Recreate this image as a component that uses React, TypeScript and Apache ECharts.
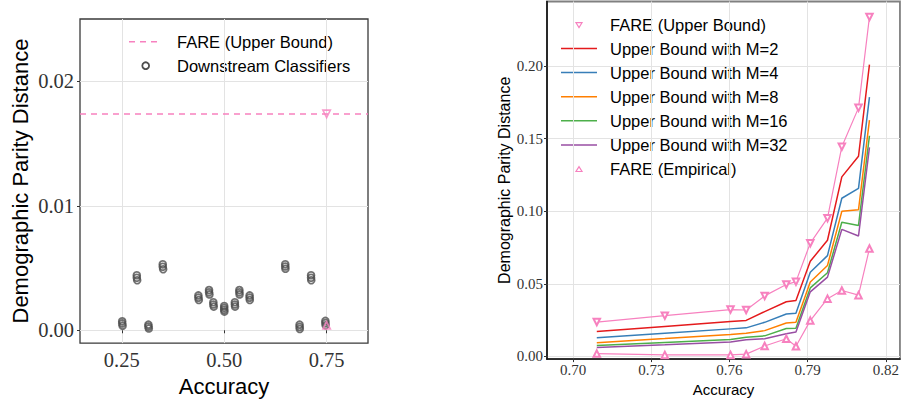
import React, { useEffect, useRef } from "react";
import * as echarts from "echarts";

// ---------- Left panel data ----------
const downstreamAccuracy = [
  0.251, 0.251, 0.252,
  0.2866, 0.2866, 0.2876,
  0.315, 0.315, 0.316,
  0.35, 0.35, 0.351,
  0.437, 0.437, 0.438,
  0.463, 0.463, 0.464,
  0.4735, 0.4735, 0.4745,
  0.5, 0.5, 0.5, 0.5005,
  0.526, 0.526, 0.5265,
  0.537, 0.537, 0.5375,
  0.562, 0.562, 0.5625,
  0.649, 0.649, 0.6495,
  0.684, 0.684, 0.6845,
  0.712, 0.712, 0.7125,
  0.747, 0.747, 0.7475,
];
const downstreamDP = [
  0.00072, 0.00055, 0.00037,
  0.00442, 0.00422, 0.00402,
  0.00045, 0.0003, 0.00015,
  0.0053, 0.0051, 0.0049,
  0.0028, 0.00262, 0.00243,
  0.00323, 0.00305, 0.00288,
  0.00225, 0.00207, 0.0019,
  0.00195, 0.0018, 0.00165, 0.0015,
  0.00225, 0.00207, 0.0019,
  0.00323, 0.00305, 0.00288,
  0.0028, 0.00262, 0.00243,
  0.0053, 0.00512, 0.00494,
  0.00045, 0.00027, 0.0001,
  0.00442, 0.00422, 0.00402,
  0.00075, 0.00058, 0.0004,
];
const leftFareAccuracy = [0.75];
const leftFareUpper = [0.01738];
const leftFareEmpirical = [0.0004];
const leftXTicks = [0.25, 0.5, 0.75];
const leftYTicks = [0, 0.01, 0.02];

// ---------- Right panel data ----------
const accuracy = [0.7091, 0.7352, 0.7604, 0.7664, 0.7735, 0.7818, 0.7855, 0.791, 0.7976, 0.8031, 0.8095, 0.8137];
const fareUpper = [0.0237, 0.0281, 0.0323, 0.032, 0.0417, 0.0495, 0.0515, 0.078, 0.0952, 0.1444, 0.1711, 0.2337];
const boundM2 = [0.0172, 0.0207, 0.0241, 0.0248, 0.0309, 0.0377, 0.0386, 0.0655, 0.08, 0.1236, 0.1378, 0.2009];
const boundM4 = [0.0129, 0.016, 0.019, 0.0197, 0.0235, 0.0292, 0.0298, 0.058, 0.0694, 0.1089, 0.1157, 0.1785];
const boundM8 = [0.0095, 0.0123, 0.0152, 0.016, 0.0178, 0.0231, 0.0235, 0.0513, 0.0626, 0.0999, 0.101, 0.1627];
const boundM16 = [0.0075, 0.0097, 0.0117, 0.0133, 0.0142, 0.0192, 0.0195, 0.0472, 0.0576, 0.0924, 0.0902, 0.1519];
const boundM32 = [0.0061, 0.008, 0.0099, 0.0115, 0.0122, 0.0156, 0.0168, 0.0445, 0.0546, 0.0875, 0.0829, 0.1439];
const fareEmpirical = [0.002, 0.0011, 0.0011, 0.0016, 0.0072, 0.0122, 0.007, 0.0247, 0.0398, 0.0454, 0.0422, 0.0743];
const rightXTicks = [0.7, 0.73, 0.76, 0.79, 0.82];
const rightYTicks = [0, 0.05, 0.1, 0.15, 0.2];

const boundNames = ["Upper Bound with M=2", "Upper Bound with M=4", "Upper Bound with M=8", "Upper Bound with M=16", "Upper Bound with M=32"];
const boundSeries = [boundM2, boundM4, boundM8, boundM16, boundM32];
const SET1 = ["#e41a1c", "#377eb8", "#ff7f00", "#4daf4a", "#984ea3"];
const PINK = "#f781bf";

const zip = (xs: number[], ys: number[]) => xs.map((x, i) => [x, ys[i]]);
const fmt2 = (v: number) => v.toFixed(2);

const SANS = "Liberation Sans, Arial, sans-serif";
const SERIF = "Liberation Serif, Times New Roman, serif";

export default function App() {
  const ref = useRef<HTMLDivElement>(null);
  useEffect(() => {
    document.body.style.margin = "0";
    const chart = echarts.init(ref.current!, undefined, { renderer: "svg" });

    const splitLine = { show: true, lineStyle: { color: "#e3e3e3", width: 1 } };

    const legendText = (x: number, y: number, text: string) => ({
      type: "text",
      x,
      y,
      style: { text, fontFamily: SANS, fontSize: 16.5, fill: "#000", verticalAlign: "middle", align: "left" },
    });
    const rightRows = [25, 48.5, 72.5, 96.7, 120.8, 145, 169.2];
    const graphic: any[] = [
      // left legend
      { type: "line", shape: { x1: 129, y1: 41.7, x2: 157, y2: 41.7 }, style: { stroke: PINK, lineWidth: 1.5, lineDash: [6, 5] } },
      legendText(177, 41.7, "FARE (Upper Bound)"),
      { type: "circle", shape: { cx: 145.7, cy: 65.7, r: 3.4 }, style: { fill: "none", stroke: "#4d4d4d", lineWidth: 1.8 } },
      legendText(177, 65.7, "Downstream Classifiers"),
      // right legend
      { type: "polygon", shape: { points: [[576, rightRows[0] - 2.3], [582, rightRows[0] - 2.3], [579, rightRows[0] + 2.5]] }, style: { fill: "#fff", stroke: PINK, lineWidth: 1.2 } },
      legendText(610, rightRows[0], "FARE (Upper Bound)"),
      ...boundNames.flatMap((n, i) => [
        { type: "line", shape: { x1: 561, y1: rightRows[i + 1], x2: 597, y2: rightRows[i + 1] }, style: { stroke: SET1[i], lineWidth: 1.6 } },
        legendText(610, rightRows[i + 1], n),
      ]),
      { type: "polygon", shape: { points: [[576, rightRows[6] + 2.3], [582, rightRows[6] + 2.3], [579, rightRows[6] - 2.5]] }, style: { fill: "#fff", stroke: PINK, lineWidth: 1.2 } },
      legendText(610, rightRows[6], "FARE (Empirical)"),
    ];

    const option: any = {
      animation: false,
      backgroundColor: "#fff",
      grid: [
        { left: 80, top: 19, width: 288, height: 328, show: true, borderColor: "#3a3a3a", borderWidth: 1.3, backgroundColor: "transparent" },
        { left: 547, top: 1.5, right: 2, bottom: 37, show: true, borderColor: "#808080", borderWidth: 1.8, backgroundColor: "transparent" },
      ],
      xAxis: [
        {
          gridIndex: 0, type: "value", min: 0.148, max: 0.851,
          name: "Accuracy", nameLocation: "middle", nameGap: 27,
          nameTextStyle: { fontFamily: SANS, fontSize: 22, color: "#000" },
          axisLine: { show: false },
          axisTick: { show: true, length: 3, customValues: leftXTicks, lineStyle: { color: "#333" } },
          axisLabel: { customValues: leftXTicks, formatter: fmt2, fontFamily: SERIF, fontSize: 20.5, color: "#333", margin: 6 },
          splitLine,
        },
        {
          gridIndex: 1, type: "value", min: 0.69, max: 0.8254,
          name: "Accuracy", nameLocation: "middle", nameGap: 20,
          nameTextStyle: { fontFamily: SANS, fontSize: 15, color: "#000" },
          axisLine: { show: true, onZero: false, lineStyle: { color: "#111", width: 1.6 } },
          axisTick: { show: true, length: 3, customValues: rightXTicks, lineStyle: { color: "#333" } },
          axisLabel: { customValues: rightXTicks, formatter: fmt2, fontFamily: SERIF, fontSize: 15, color: "#333", margin: 3 },
          splitLine,
        },
      ],
      yAxis: [
        {
          gridIndex: 0, type: "value", min: -0.00103, max: 0.025,
          name: "Demographic Parity Distance", nameLocation: "middle", nameGap: 49,
          nameTextStyle: { fontFamily: SANS, fontSize: 22, color: "#000" },
          axisLine: { show: false },
          axisTick: { show: true, length: 3, customValues: leftYTicks, lineStyle: { color: "#333" } },
          axisLabel: { customValues: leftYTicks, formatter: fmt2, fontFamily: SERIF, fontSize: 20.5, color: "#333", margin: 6 },
          splitLine,
        },
        {
          gridIndex: 1, type: "value", min: -0.0018, max: 0.2443,
          name: "Demographic Parity Distance", nameLocation: "middle", nameGap: 31,
          nameTextStyle: { fontFamily: SANS, fontSize: 16, color: "#000" },
          axisLine: { show: true, onZero: false, lineStyle: { color: "#111", width: 1.6 } },
          axisTick: { show: true, length: 3, customValues: rightYTicks, lineStyle: { color: "#333" } },
          axisLabel: { customValues: rightYTicks, formatter: fmt2, fontFamily: SERIF, fontSize: 15, color: "#333", margin: 4 },
          splitLine,
        },
      ],
      graphic,
      series: [
        {
          name: "Downstream Classifiers", type: "scatter", xAxisIndex: 0, yAxisIndex: 0,
          data: zip(downstreamAccuracy, downstreamDP),
          symbol: "circle", symbolSize: 6.8,
          itemStyle: { color: "transparent", borderColor: "#4d4d4d", borderWidth: 1.8 },
        },
        {
          name: "FARE (Upper Bound) left", type: "scatter", xAxisIndex: 0, yAxisIndex: 0,
          data: zip(leftFareAccuracy, leftFareUpper),
          symbol: "triangle", symbolRotate: 180, symbolSize: 7.5,
          itemStyle: { color: "transparent", borderColor: PINK, borderWidth: 1.6 },
          markLine: {
            silent: true, symbol: ["none", "none"], label: { show: false }, precision: 6,
            lineStyle: { color: PINK, type: [6, 5], width: 1.5 },
            data: [{ yAxis: leftFareUpper[0] }],
          },
        },
        {
          name: "FARE (Empirical) left", type: "scatter", xAxisIndex: 0, yAxisIndex: 0,
          data: zip(leftFareAccuracy, leftFareEmpirical),
          symbol: "triangle", symbolSize: 7.5,
          itemStyle: { color: "transparent", borderColor: PINK, borderWidth: 1.6 },
        },
        {
          name: "FARE (Upper Bound)", type: "line", xAxisIndex: 1, yAxisIndex: 1,
          data: zip(accuracy, fareUpper),
          symbol: "emptyTriangle", symbolRotate: 180, symbolSize: 6.5,
          lineStyle: { color: PINK, width: 1.2 },
          itemStyle: { color: PINK, borderWidth: 1.2 },
        },
        ...boundSeries.map((vals, i) => ({
          name: boundNames[i], type: "line", xAxisIndex: 1, yAxisIndex: 1,
          data: zip(accuracy, vals), symbol: "none",
          lineStyle: { color: SET1[i], width: 1.5 },
        })),
        {
          name: "FARE (Empirical)", type: "line", xAxisIndex: 1, yAxisIndex: 1,
          data: zip(accuracy, fareEmpirical),
          symbol: "emptyTriangle", symbolSize: 6.5,
          lineStyle: { color: PINK, width: 1.2 },
          itemStyle: { color: PINK, borderWidth: 1.2 },
        },
      ],
    };
    chart.setOption(option);
    return () => chart.dispose();
  }, []);
  return <div ref={ref} style={{ width: 902, height: 402 }} />;
}
